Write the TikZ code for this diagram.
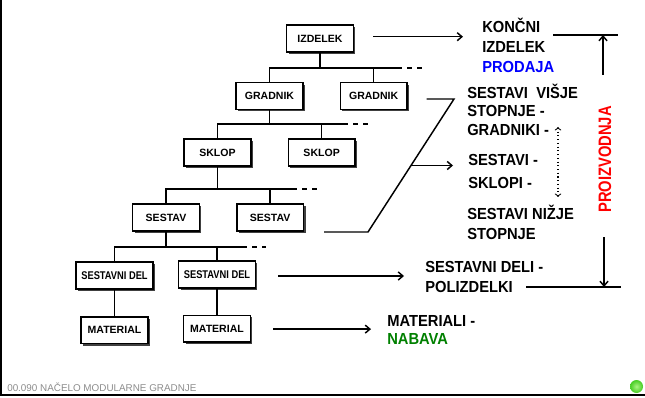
\documentclass[tikz,border=0pt]{standalone}
\usepackage{fontspec}
\setmainfont{Liberation Sans}
\newfontfamily\narrowfont[FakeStretch=0.83]{Liberation Sans}
\newfontfamily\labelfont[FakeStretch=0.92]{Liberation Sans}
\newfontfamily\tallfont[FakeStretch=0.82]{Liberation Sans}
\usepackage{tikz}
\usetikzlibrary{shapes.geometric, arrows, arrows.meta, calc, positioning, shadows}
\definecolor{nabava}{RGB}{0,128,0}
\definecolor{footgray}{RGB}{140,140,140}
\definecolor{dotlight}{RGB}{170,245,130}
\definecolor{dotgreen}{RGB}{70,205,35}
\tikzstyle{part} = [rectangle, line width=1.1pt, draw=black, fill=white, minimum width=50pt, minimum height=20pt, inner sep=1pt, text centered, font=\fontsize{7.9}{9}\selectfont\bfseries, drop shadow={shadow xshift=1.6pt, shadow yshift=-1.6pt, fill=black!75, opacity=1}]
\tikzstyle{widepart} = [part, minimum width=57.5pt, font=\fontsize{8.4}{9}\selectfont\narrowfont\bfseries]
\tikzstyle{sidetext} = [anchor=north west, inner sep=0pt, align=left, font=\fontsize{12}{15}\selectfont\labelfont\bfseries]
\tikzstyle{treeline} = [line width=1.1pt]
\tikzstyle{dashline} = [line width=1.1pt, dash pattern=on 4pt off 3.5pt]
\tikzstyle{arrow} = [line width=1.1pt,->,>={Straight Barb[length=3.5pt,width=6pt]}]
\tikzstyle{dottedarrow} = [line width=0.8pt, dotted,<->,>=to]

\begin{document}
\begin{tikzpicture}[x=0.75pt, y=-0.75pt]
		\useasboundingbox (0,0) rectangle (645,398);
		\draw [line width=1.5pt] (1,0) -- (1,395) -- (645,395);
		
		\node (Izdelek) [part] at (320,38.5) {IZDELEK};
		\node (Gradnik01) [part] at (269.5,96) {GRADNIK};
		\node (Gradnik02) [part, right = 27pt of Gradnik01] {GRADNIK};
		\node (Sklop01) [part] at (217.5,152.5) {SKLOP};
		\node (Sklop02) [part, right = 27pt of Sklop01] {SKLOP};
		\node (Sestav01) [part] at (166,217.5) {SESTAV};
		\node (Sestav02) [part, right = 27pt of Sestav01] {SESTAV};
		\node (SestavniDel01) [widepart] at (114.5,275.5) {SESTAVNI DEL};
		\node (SestavniDel02) [widepart] at (217,274.5) {SESTAVNI DEL};
		\node (Material01) [part, below = 20pt of SestavniDel01] {MATERIAL};
		\node (Material02) [part, below = 19.5pt of SestavniDel02] {MATERIAL};
		
		\node (Koncni) [sidetext] at (482,17.6) {KONČNI\\IZDELEK\\\textcolor{blue}{PRODAJA}};
		\node (Visje) [sidetext] at (467,83.6) {SESTAVI\ \ VIŠJE\\[-1.1pt]STOPNJE -\\[-1.1pt]GRADNIKI -};
		\node (Sklopi) [sidetext] at (468,153.8) {SESTAVI -\\[2.2pt]SKLOPI -};
		\node (Nizje) [sidetext] at (467,204.6) {SESTAVI NIŽJE\\STOPNJE};
		\node (Polizdelki) [sidetext] at (425,260.8) {SESTAVNI DELI -\\POLIZDELKI};
		\node (Materiali) [sidetext] at (387,314.8) {MATERIALI -\\[-1.5pt]\textcolor{nabava}{NABAVA}};
		\node (Proizvodnja) [rotate=90, inner sep=0pt, text=red, font=\fontsize{13.5}{15}\selectfont\tallfont\bfseries] at (605,159.5) {PROIZVODNJA};
		
		\node (Footer) [anchor=base west, inner sep=0pt, text=footgray, font=\fontsize{7.4}{9}\selectfont] at (7,391.5) {00.090 NAČELO MODULARNE GRADNJE};
		\shade [inner color=dotlight, outer color=dotgreen] (636.5,386.5) circle (6.5);
		
		% tree
		\coordinate (Bus01) at (397,68);
		\coordinate (Bus02) at (343,124);
		\coordinate (Bus03) at (292,189);
		\coordinate (Bus04) at (242,247);
		\draw [treeline] (Izdelek.south) -- (Izdelek.south |- Bus01);
		\draw [treeline] (Gradnik01.north) |- (Bus01);
		\draw [treeline] (Gradnik02.north) -- (Gradnik02.north |- Bus01);
		\draw [dashline] (Bus01) -- ++(26,0);
		\draw [treeline] (Gradnik01.south) -- (Gradnik01.south |- Bus02);
		\draw [treeline] (Sklop01.north) |- (Bus02);
		\draw [treeline] (Sklop02.north) -- (Sklop02.north |- Bus02);
		\draw [dashline] (Bus02) -- ++(26,0);
		\draw [treeline] (Sklop01.south) -- (Sklop01.south |- Bus03);
		\draw [treeline] (Sestav01.north) |- (Bus03);
		\draw [treeline] (Sestav02.north) -- (Sestav02.north |- Bus03);
		\draw [dashline] (Bus03) -- ++(26,0);
		\draw [treeline] (Sestav01.south) -- (Sestav01.south |- Bus04);
		\draw [treeline] (SestavniDel01.north) |- (Bus04);
		\draw [treeline] (SestavniDel02.north) -- (SestavniDel02.north |- Bus04);
		\draw [dashline] (Bus04) -- ++(24,0);
		\draw [treeline] (SestavniDel01) -- (Material01);
		\draw [treeline] (SestavniDel02) -- (Material02);
		
		% levels
		\coordinate (BracketTop) at (454,99);
		\coordinate (BracketBot) at (368,232);
		\draw [arrow] ($(Izdelek.east)+(19,-1.8)$) -- ($(Koncni.west |- Izdelek.east)+(-19,-1.8)$);
		\draw [treeline] ($(Gradnik02.east)+(19,3)$) -- (BracketTop) -- (BracketBot) -- ($(Sestav02.east)+(20,14.5)$);
		\draw [arrow] ($(BracketTop)!0.5!(BracketBot)$) -- ++(42,0);
		\draw [arrow] ($(SestavniDel02.east)+(22,1.5)$) -- ($(Polizdelki.west |- SestavniDel02.east)+(-21,1.5)$);
		\draw [arrow] ($(Material02.east)+(22,0.5)$) -- ($(Materiali.west |- Material02.east)+(-16,0.5)$);
		
		% production
		\coordinate (ProdTopL) at (553,35);
		\coordinate (ProdTopR) at (618,35);
		\coordinate (ProdBotL) at (526,287);
		\coordinate (ProdBotR) at (621,287);
		\coordinate (DotTop) at (558,127);
		\coordinate (DotBot) at (558,197);
		\draw [treeline] (ProdTopL) -- (ProdTopR);
		\draw [treeline] (ProdBotL) -- (ProdBotR);
		\draw [arrow] ($(Proizvodnja.east)+(-2,-31)$) -- ($(Proizvodnja.east |- ProdTopL)+(-2,0)$);
		\draw [arrow] ($(Proizvodnja.west)+(-1,24)$) -- ($(Proizvodnja.west |- ProdBotL)+(-1,0)$);
		\draw [dottedarrow] (DotTop) -- (DotBot);
\end{tikzpicture}
\end{document}
